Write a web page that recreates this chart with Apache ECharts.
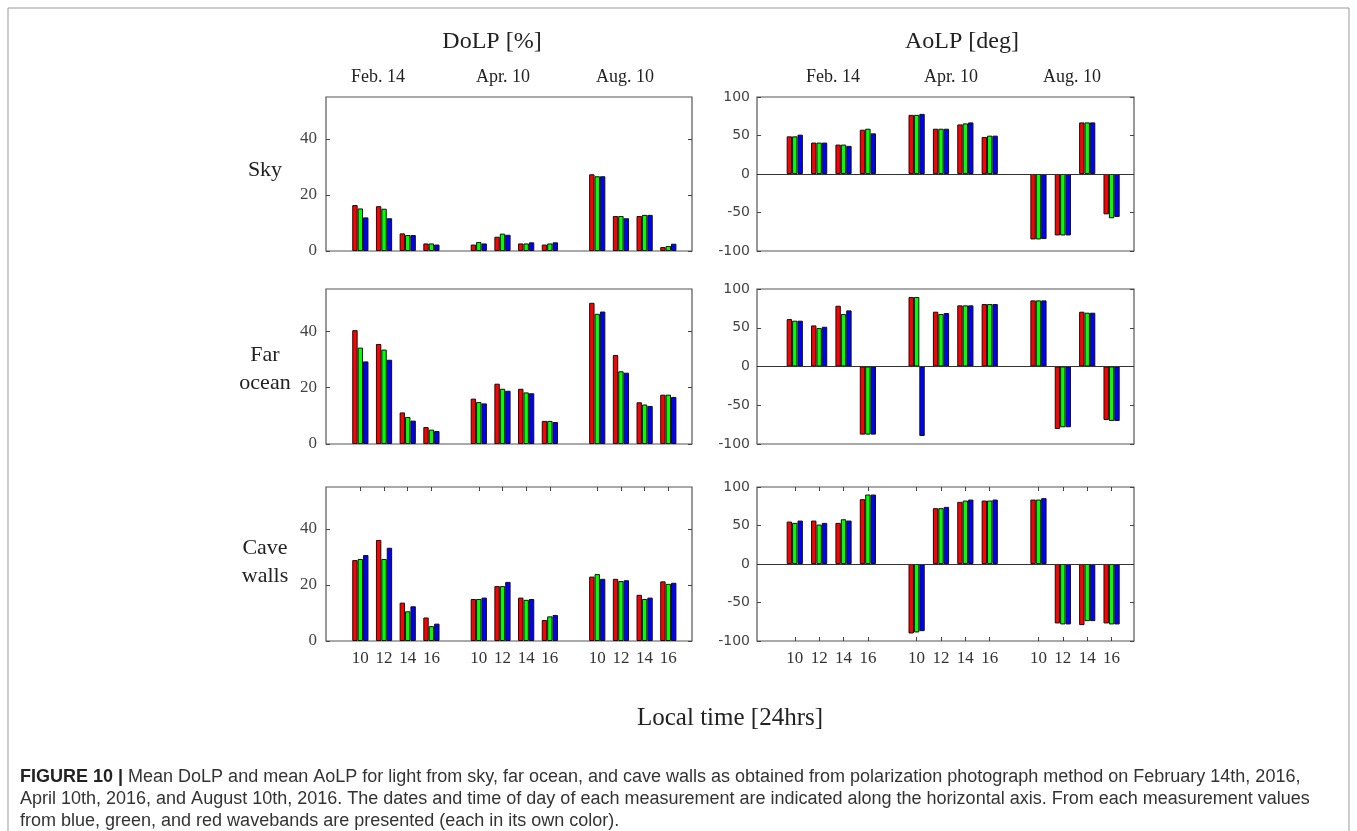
<!DOCTYPE html>
<html>
<head>
<meta charset="utf-8">
<script src="https://cdn.jsdelivr.net/npm/echarts@6/dist/echarts.min.js"></script>
<style>html,body{margin:0;padding:0;background:#fff;}#chart{width:1357px;height:831px;}</style>
</head>
<body>
<div id="chart"></div>
<script>
// x positions of the measurement slots (gap between dates) and their tick labels
const xPositions = [1, 2, 3, 4, 6, 7, 8, 9, 11, 12, 13, 14];
const timeLabels = ['10', '12', '14', '16', '10', '12', '14', '16', '10', '12', '14', '16'];
const dateLabels = ['Feb. 14', 'Apr. 10', 'Aug. 10'];
const rowLabels = ['Sky', 'Far\nocean', 'Cave\nwalls'];
const dolpTicks = [0, 20, 40];
const aolpTicks = [-100, -50, 0, 50, 100];

// DoLP [%]
const skyDoLP_R = [16.4, 16.0, 6.3, 2.7, 2.3, 5.1, 2.7, 2.3, 27.4, 12.5, 12.5, 1.4];
const skyDoLP_G = [15.2, 15.1, 5.7, 2.7, 3.2, 6.2, 2.7, 2.7, 26.7, 12.5, 12.9, 1.8];
const skyDoLP_B = [12.0, 11.7, 5.7, 2.3, 2.7, 5.8, 3.1, 3.1, 26.7, 11.7, 12.9, 2.6];

const oceanDoLP_R = [40.4, 35.5, 11.2, 6.0, 16.1, 21.4, 19.6, 8.2, 50.1, 31.6, 14.8, 17.5];
const oceanDoLP_G = [34.2, 33.5, 9.6, 5.1, 14.9, 19.6, 18.3, 8.2, 46.2, 25.8, 14.0, 17.5];
const oceanDoLP_B = [29.3, 29.9, 8.3, 4.6, 14.4, 18.9, 18.0, 7.8, 47.0, 25.3, 13.5, 16.7];

const caveDoLP_R = [28.9, 36.1, 13.7, 8.4, 15.0, 19.6, 15.5, 7.5, 23.0, 22.2, 16.5, 21.3];
const caveDoLP_G = [29.3, 29.3, 10.6, 5.3, 15.0, 19.6, 14.7, 8.8, 23.9, 21.4, 15.0, 20.4];
const caveDoLP_B = [30.7, 33.3, 12.4, 6.2, 15.5, 21.1, 15.0, 9.3, 22.2, 21.7, 15.5, 20.8];

// AoLP [deg]
const skyAoLP_R = [48.9, 40.8, 38.2, 57.5, 76.8, 58.8, 64.4, 48.1, -85.0, -79.8, 67.0, -52.4];
const skyAoLP_G = [48.9, 40.8, 38.2, 58.8, 76.8, 58.8, 65.7, 49.8, -85.0, -79.8, 67.0, -57.5];
const skyAoLP_B = [51.1, 40.8, 36.5, 52.8, 78.1, 58.8, 67.0, 49.8, -84.5, -79.8, 67.0, -55.8];

const oceanAoLP_R = [61.2, 53.0, 78.4, -87.9, 89.7, 70.7, 78.9, 80.6, 85.3, -80.6, 70.7, -69.0];
const oceanAoLP_G = [59.1, 49.6, 67.7, -87.9, 89.7, 67.7, 78.9, 80.6, 85.3, -78.4, 69.4, -70.3];
const oceanAoLP_B = [59.1, 51.3, 72.4, -87.9, -89.7, 69.0, 78.9, 80.6, 85.3, -78.4, 69.4, -70.3];

const caveAoLP_R = [55.1, 56.4, 53.4, 84.2, -90.2, 72.5, 80.7, 82.4, 83.7, -77.2, -79.4, -77.2];
const caveAoLP_G = [53.4, 51.2, 58.1, 90.2, -88.9, 72.5, 82.4, 82.4, 83.7, -78.5, -74.2, -78.5];
const caveAoLP_B = [56.4, 53.4, 56.4, 90.2, -87.2, 74.2, 83.7, 83.7, 85.5, -78.5, -74.2, -78.5];

const bandColors = ['#ff0000', '#00ff00', '#0000ff'];

const panels = [
  {col: 0, row: 0, vals: [skyDoLP_R, skyDoLP_G, skyDoLP_B]},
  {col: 1, row: 0, vals: [skyAoLP_R, skyAoLP_G, skyAoLP_B]},
  {col: 0, row: 1, vals: [oceanDoLP_R, oceanDoLP_G, oceanDoLP_B]},
  {col: 1, row: 1, vals: [oceanAoLP_R, oceanAoLP_G, oceanAoLP_B]},
  {col: 0, row: 2, vals: [caveDoLP_R, caveDoLP_G, caveDoLP_B]},
  {col: 1, row: 2, vals: [caveAoLP_R, caveAoLP_G, caveAoLP_B]}
];

// layout
const colLeft = [326, 757];
const colWidth = [366, 377];
const rowTop = [97, 289, 487];
const rowHeight = [154, 155, 154];
const xMin = [-0.45, -0.55];
const xMax = [15, 14.92];

const grids = [], xAxes = [], yAxes = [], series = [];
const serif = 'Liberation Serif';
const sans = 'DejaVu Sans';

panels.forEach((p, g) => {
  const isBottom = p.row === 2;
  const isAoLP = p.col === 1;
  grids.push({
    left: colLeft[p.col], top: rowTop[p.row], width: colWidth[p.col], height: rowHeight[p.row],
    show: true, borderColor: '#555', borderWidth: 1.2, backgroundColor: 'transparent'
  });
  const tickMap = {};
  xPositions.forEach((x, i) => { tickMap[x] = timeLabels[i]; });
  ['bottom', 'top'].forEach((pos) => {
    xAxes.push({
      type: 'value', gridIndex: g, position: pos, min: xMin[p.col], max: xMax[p.col],
      axisLine: {show: false, onZero: false},
      splitLine: {show: false},
      axisTick: {show: isBottom, inside: true, length: 4, customValues: xPositions, lineStyle: {color: '#444'}},
      axisLabel: {
        show: isBottom && pos === 'bottom', customValues: xPositions,
        formatter: (v) => tickMap[v] || '',
        fontFamily: serif, fontSize: 17, color: '#333', margin: 9
      }
    });
  });
  const ticks = isAoLP ? aolpTicks : dolpTicks;
  ['left', 'right'].forEach((pos) => {
    yAxes.push({
      type: 'value', gridIndex: g, position: pos,
      min: isAoLP ? -100 : 0, max: isAoLP ? 100 : 55,
      axisLine: {show: false, onZero: false},
      splitLine: {show: false},
      axisTick: {show: true, inside: true, length: 4, customValues: ticks, lineStyle: {color: '#444'}},
      axisLabel: {
        show: pos === 'left', customValues: ticks,
        fontFamily: isAoLP ? sans : serif, fontSize: isAoLP ? 14 : 17,
        color: '#444', margin: isAoLP ? 7 : 9
      }
    });
  });
  p.vals.forEach((arr, c) => {
    const s = {
      type: 'bar', xAxisIndex: 2 * g, yAxisIndex: 2 * g,
      data: xPositions.map((x, i) => [x, arr[i]]),
      barWidth: 5.4, barGap: '0%',
      itemStyle: {color: bandColors[c], borderColor: '#111', borderWidth: 1},
      silent: true, animation: false
    };
    if (isAoLP && c === 0) {
      s.markLine = {
        silent: true, symbol: 'none', animation: false,
        label: {show: false},
        lineStyle: {color: '#333', width: 1.2, type: 'solid'},
        data: [{yAxis: 0}]
      };
    }
    series.push(s);
  });
});

const graphic = [];
// outer frame
graphic.push({type: 'rect', shape: {x: 8, y: 8, width: 1341, height: 840},
  style: {fill: 'none', stroke: '#9a9a9a', lineWidth: 1}, silent: true});
// column titles
[['DoLP [%]', 492], ['AoLP [deg]', 962]].forEach(([t, x]) => {
  graphic.push({type: 'text', x: x, y: 42, style: {text: t, font: '24px "' + serif + '"',
    fill: '#222', align: 'center', verticalAlign: 'middle'}});
});
// date labels
const dateX = [[378, 503, 625], [833, 951, 1072]];
dateX.forEach((xs) => xs.forEach((x, i) => {
  graphic.push({type: 'text', x: x, y: 77, style: {text: dateLabels[i], font: '18px "' + serif + '"',
    fill: '#222', align: 'center', verticalAlign: 'middle'}});
}));
// row labels
const rowY = [170, 369, 562];
rowLabels.forEach((t, i) => {
  graphic.push({type: 'text', x: 265, y: rowY[i], style: {text: t, font: '22px "' + serif + '"',
    fill: '#222', align: 'center', verticalAlign: 'middle', lineHeight: 28}});
});
// common x label
graphic.push({type: 'text', x: 730, y: 718, style: {text: 'Local time [24hrs]', font: '25px "' + serif + '"',
  fill: '#222', align: 'center', verticalAlign: 'middle'}});
// caption
graphic.push({type: 'text', x: 20, y: 766, style: {
  text: '{b|FIGURE 10 |} Mean DoLP and mean AoLP for light from sky, far ocean, and cave walls as obtained from polarization photograph method on February 14th, 2016,\nApril 10th, 2016, and August 10th, 2016. The dates and time of day of each measurement are indicated along the horizontal axis. From each measurement values\nfrom blue, green, and red wavebands are presented (each in its own color).',
  font: '18px "Liberation Sans"', fill: '#333', lineHeight: 22,
  rich: {b: {fontWeight: 'bold', fontSize: 18, fontFamily: 'Liberation Sans', fill: '#222', lineHeight: 22}}
}});

const chart = echarts.init(document.getElementById('chart'), null, {renderer: 'canvas'});
chart.setOption({
  animation: false,
  backgroundColor: '#fff',
  grid: grids, xAxis: xAxes, yAxis: yAxes, series: series, graphic: graphic
});
</script>
</body>
</html>
